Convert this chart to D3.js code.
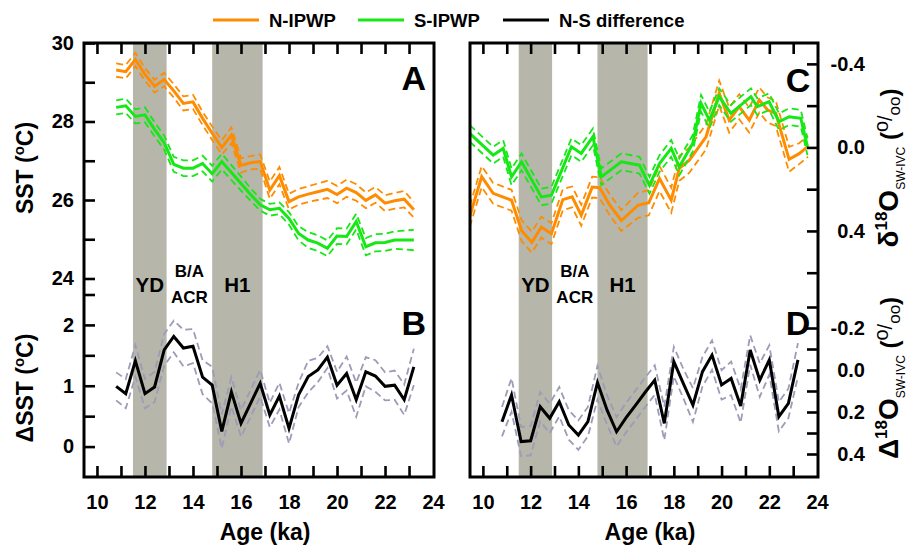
<!DOCTYPE html>
<head>
  <meta charset="utf-8">
  <script src="https://d3js.org/d3.v7.min.js"></script>
  <style>
    body { margin: 0; background: #fff; }
    text { font-family: "Liberation Sans", Arial, sans-serif; font-weight: bold; fill: #000; }
    .frame { fill: none; stroke: #000; stroke-width: 3px; }
    .axis line { stroke: #000; stroke-width: 2.6px; }
    .axis path { display: none; }
    .solid { fill: none; stroke-width: 3px; }
    .dash { fill: none; stroke-width: 1.8px; stroke-dasharray: 7,4; }
  </style>
</head>

<body>
  <script>
    // ---- data ----
    // common 0.4 ka grid for SST records and the N-S differences
    var ages = [10.8, 11.2, 11.6, 12.0, 12.4, 12.8, 13.2, 13.6, 14.0, 14.4, 14.8, 15.2, 15.6, 16.0, 16.4, 16.8,
                17.2, 17.6, 18.0, 18.4, 18.8, 19.2, 19.6, 20.0, 20.4, 20.8, 21.2, 21.6, 22.0, 22.4, 22.8, 23.2];

    var nSst = [29.31, 29.27, 29.58, 29.20, 28.90, 29.07, 28.78, 28.46, 28.50, 28.08, 27.70, 27.34, 27.65, 26.88, 26.95, 26.98,
                26.25, 26.62, 25.96, 26.08, 26.15, 26.21, 26.27, 26.14, 26.30, 26.19, 25.99, 26.13, 25.92, 25.98, 26.02, 25.75];
    var nSstErr = [0.17, 0.17, 0.17, 0.16, 0.16, 0.17, 0.17, 0.18, 0.18, 0.17, 0.17, 0.18, 0.20, 0.18, 0.17, 0.18,
                   0.22, 0.22, 0.20, 0.20, 0.20, 0.21, 0.22, 0.22, 0.22, 0.21, 0.20, 0.20, 0.20, 0.20, 0.21, 0.20];

    var sSst = [28.36, 28.40, 28.13, 28.17, 27.80, 27.46, 26.91, 26.81, 26.81, 26.93, 26.67, 26.98, 26.70, 26.42, 26.14, 25.88,
                25.75, 25.79, 25.53, 25.15, 24.98, 24.90, 24.77, 25.08, 25.07, 25.45, 24.81, 24.91, 24.92, 24.98, 24.98, 24.98];
    var sSstErr = [0.18, 0.18, 0.18, 0.19, 0.18, 0.18, 0.19, 0.20, 0.20, 0.20, 0.20, 0.20, 0.19, 0.18, 0.16, 0.15,
                   0.15, 0.15, 0.16, 0.18, 0.20, 0.20, 0.20, 0.20, 0.20, 0.20, 0.22, 0.22, 0.22, 0.22, 0.24, 0.26];

    var dSst = [0.99, 0.87, 1.41, 0.87, 0.98, 1.59, 1.81, 1.62, 1.65, 1.14, 1.01, 0.25, 0.90, 0.38, 0.71, 1.04,
                0.52, 0.83, 0.30, 0.85, 1.15, 1.26, 1.47, 1.01, 1.20, 0.77, 1.23, 1.16, 0.99, 1.01, 0.77, 1.31];
    var dSstErr = [0.23, 0.24, 0.26, 0.24, 0.25, 0.26, 0.26, 0.30, 0.28, 0.28, 0.30, 0.28, 0.24, 0.22, 0.22, 0.22,
                   0.20, 0.22, 0.25, 0.20, 0.26, 0.20, 0.18, 0.22, 0.28, 0.28, 0.24, 0.26, 0.23, 0.24, 0.25, 0.30];

    // d18O seawater, own sampling
    var nOAge = [9.45, 9.95, 10.43, 11.2, 11.62, 12.05, 12.45, 12.87, 13.35, 13.74, 14.12, 14.58, 14.89, 15.31, 15.8, 16.5,
                 16.95, 17.4, 17.89, 18.23, 18.65, 19.35, 19.9, 20.32, 20.74, 21.16, 21.58, 21.93, 22.27, 22.83, 23.25, 23.62];
    var nO = [0.33, 0.14, 0.22, 0.253, 0.398, 0.454, 0.382, 0.413, 0.25, 0.237, 0.325, 0.19, 0.193, 0.275, 0.35, 0.277,
              0.265, 0.149, 0.253, 0.10, 0.061, -0.051, -0.26, -0.131, -0.195, -0.131, -0.227, -0.179, -0.163, 0.057, 0.03, -0.005];
    var nOErr = [0.05, 0.05, 0.05, 0.05, 0.05, 0.05, 0.05, 0.05, 0.05, 0.05, 0.05, 0.05, 0.05, 0.05, 0.05, 0.06,
                 0.06, 0.06, 0.06, 0.06, 0.06, 0.06, 0.06, 0.06, 0.06, 0.06, 0.06, 0.06, 0.06, 0.06, 0.05, 0.05];

    var sOAge = [9.45, 10.43, 10.85, 11.2, 11.62, 12.45, 12.87, 13.71, 14.12, 14.61, 14.96, 15.8, 16.56, 16.98, 17.4,
                 17.89, 18.23, 18.79, 19.14, 19.49, 19.9, 20.39, 21.23, 21.5, 21.99, 22.41, 22.83, 23.32, 23.6];
    var sO = [-0.067, 0.037, 0.005, 0.141, 0.069, 0.237, 0.229, -0.003, 0.029, -0.051, 0.141, 0.069, 0.085, 0.181, 0.077,
              0.005, 0.093, -0.019, -0.211, -0.131, -0.243, -0.163, -0.243, -0.195, -0.219, -0.123, -0.147, -0.139, -0.003];
    var sOErr = [0.04, 0.04, 0.04, 0.04, 0.04, 0.04, 0.04, 0.04, 0.04, 0.04, 0.04, 0.04, 0.04, 0.04, 0.04,
                 0.04, 0.04, 0.04, 0.04, 0.04, 0.04, 0.04, 0.04, 0.04, 0.04, 0.04, 0.04, 0.04, 0.04];

    var dO = [0.246, 0.119, 0.341, 0.337, 0.175, 0.23, 0.151, 0.262, 0.31, 0.246, 0.06, 0.19, 0.294, 0.227, 0.167, 0.106,
              0.048, 0.254, -0.04, 0.065, 0.167, 0.008, -0.071, 0.071, 0.04, 0.171, -0.095, 0.048, -0.048, 0.222, 0.159, -0.048];
    var dOErr = [0.07, 0.08, 0.07, 0.07, 0.07, 0.07, 0.07, 0.07, 0.07, 0.07, 0.08, 0.07, 0.07, 0.07, 0.07, 0.07,
                 0.07, 0.08, 0.07, 0.07, 0.08, 0.07, 0.07, 0.07, 0.08, 0.08, 0.07, 0.08, 0.07, 0.07, 0.07, 0.08];

    // climate events
    var bandStart = [11.5, 14.8];
    var bandEnd = [12.9, 16.9];
    var bandLabel = ["YD", "H1"];

    var xTicks = [10, 11, 12, 13, 14, 15, 16, 17, 18, 19, 20, 21, 22, 23, 24];
    var sstTicks = [24, 25, 26, 27, 28, 29, 30];
    var dSstTicks = [0, 0.5, 1, 1.5, 2, 2.5];
    var oTicks = [-0.4, -0.2, 0, 0.2, 0.4, 0.6];
    var dOTicks = [-0.3, -0.2, -0.1, 0, 0.1, 0.2, 0.3, 0.4];

    var ORANGE = "#ff8c00", GREEN = "#16e816", GREYDASH = "#9c9cb8";

    var svg = d3.select("body").append("svg")
      .attr("width", 912)
      .attr("height", 548);

    var frameTop = 43, frameBottom = 477;

    // ---- scales ----
    var xL = d3.scaleLinear().domain([9.46, 24.04]).range([84, 434]);
    var xR = d3.scaleLinear().domain([9.46, 24.04]).range([470, 818]);
    var yA = d3.scaleLinear().domain([30, 24]).range([43, 278.5]);
    var yB = d3.scaleLinear().domain([2.5, -0.5]).range([294.5, 477]);
    var yC = d3.scaleLinear().domain([-0.5, 0.6]).range([43, 272.7]);
    var yD = d3.scaleLinear().domain([-0.3, 0.4]).range([307, 454]);

    function series(ag, val, err, k) {
      return ag.map(function(a, i) { return {x: a, y: val[i] + k * (err ? err[i] : 0)}; });
    }

    function panel(id, x) {
      var g = svg.append("g");
      svg.append("clipPath").attr("id", id)
        .append("rect")
        .attr("x", x.range()[0]).attr("y", frameTop)
        .attr("width", x.range()[1] - x.range()[0]).attr("height", frameBottom - frameTop);

      // shaded event bands
      g.selectAll(".band").data(bandStart).enter().append("rect")
        .attr("x", function(d) { return x(d); })
        .attr("y", frameTop)
        .attr("width", function(d, i) { return x(bandEnd[i]) - x(d); })
        .attr("height", frameBottom - frameTop)
        .attr("fill", "#b6b6aa");
      return g;
    }

    function drawLine(g, clipId, x, y, data, color, cls) {
      var line = d3.line()
        .x(function(d) { return x(d.x); })
        .y(function(d) { return y(d.y); });
      g.append("path")
        .datum(data)
        .attr("class", cls)
        .attr("clip-path", "url(#" + clipId + ")")
        .attr("stroke", color)
        .attr("d", line);
    }

    function withErr(g, clipId, x, y, ag, val, err, color, dashColor) {
      drawLine(g, clipId, x, y, series(ag, val, err, 1), dashColor, "dash");
      drawLine(g, clipId, x, y, series(ag, val, err, -1), dashColor, "dash");
      drawLine(g, clipId, x, y, series(ag, val, null, 0), color, "solid");
    }

    // ---- left panel (A, B) ----
    var gL = panel("clipL", xL);
    withErr(gL, "clipL", xL, yA, ages, nSst, nSstErr, ORANGE, ORANGE);
    withErr(gL, "clipL", xL, yA, ages, sSst, sSstErr, GREEN, GREEN);
    withErr(gL, "clipL", xL, yB, ages, dSst, dSstErr, "#000", GREYDASH);

    // ---- right panel (C, D) ----
    var gR = panel("clipR", xR);
    withErr(gR, "clipR", xR, yC, nOAge, nO, nOErr, ORANGE, ORANGE);
    withErr(gR, "clipR", xR, yC, sOAge, sO, sOErr, GREEN, GREEN);
    withErr(gR, "clipR", xR, yD, ages, dO, dOErr, "#000", GREYDASH);

    // ---- axes ----
    function styleText(sel, size) {
      sel.selectAll("text").style("font-size", size + "px")
        .style("font-family", "'Liberation Sans', Arial, sans-serif")
        .style("font-weight", "bold").attr("fill", "#000");
    }

    [xL, xR].forEach(function(x) {
      var gb = svg.append("g").attr("class", "axis")
        .attr("transform", "translate(0," + frameBottom + ")")
        .call(d3.axisBottom(x).tickValues(xTicks).tickSize(-11).tickPadding(18)
          .tickFormat(function(d) { return d % 2 === 0 ? d : ""; }));
      styleText(gb, 20);
      gb.selectAll(".tick line").filter(function(d) { return d === 24; }).remove();

      svg.append("g").attr("class", "axis")
        .attr("transform", "translate(0," + frameTop + ")")
        .call(d3.axisTop(x).tickValues(xTicks.slice(0, -1)).tickSize(-11).tickFormat(""));

      svg.append("text")
        .attr("x", (x(10) + x(24)) / 2)
        .attr("y", 540)
        .attr("text-anchor", "middle")
        .style("font-size", "23px")
        .text("Age (ka)");
    });

    var gA = svg.append("g").attr("class", "axis").attr("transform", "translate(84,0)")
      .call(d3.axisLeft(yA).tickValues(sstTicks).tickSize(-11).tickPadding(10)
        .tickFormat(function(d) { return d % 2 === 0 ? d : ""; }));
    styleText(gA, 20);

    var gB = svg.append("g").attr("class", "axis").attr("transform", "translate(84,0)")
      .call(d3.axisLeft(yB).tickValues(dSstTicks).tickSize(-11).tickPadding(10)
        .tickFormat(function(d) { return d % 1 === 0 ? d : ""; }));
    styleText(gB, 20);

    var fmt = d3.format(".1f");
    function fmtO(d) { return fmt(d).replace("\u2212", "-"); }

    var gC = svg.append("g").attr("class", "axis").attr("transform", "translate(818,0)")
      .call(d3.axisRight(yC).tickValues(oTicks).tickSize(-11)
        .tickFormat(function(d) { return Math.round(d * 10) % 4 === 0 ? fmtO(d) : ""; }));
    styleText(gC, 20);
    gC.selectAll("text").attr("x", 47).attr("text-anchor", "end");

    var gD = svg.append("g").attr("class", "axis").attr("transform", "translate(818,0)")
      .call(d3.axisRight(yD).tickValues(dOTicks).tickSize(-11)
        .tickFormat(function(d) { return Math.round(d * 10) % 2 === 0 ? fmtO(d) : ""; }));
    styleText(gD, 20);
    gD.selectAll("text").attr("x", 47).attr("text-anchor", "end");

    // frames
    [xL, xR].forEach(function(x) {
      svg.append("rect").attr("class", "frame")
        .attr("x", x.range()[0]).attr("y", frameTop)
        .attr("width", x.range()[1] - x.range()[0]).attr("height", frameBottom - frameTop);
    });

    // ---- event labels ----
    [xL, xR].forEach(function(x) {
      svg.selectAll(null).data(bandLabel).enter().append("text")
        .attr("x", function(d, i) { return x((bandStart[i] + bandEnd[i]) / 2); })
        .attr("y", 292)
        .attr("text-anchor", "middle")
        .style("font-size", "20.5px")
        .text(function(d) { return d; });
      var mid = x((bandEnd[0] + bandStart[1]) / 2);
      svg.append("text").attr("x", mid).attr("y", 277).attr("text-anchor", "middle")
        .style("font-size", "17px").text("B/A");
      svg.append("text").attr("x", mid).attr("y", 303).attr("text-anchor", "middle")
        .style("font-size", "17px").text("ACR");
    });

    // panel letters
    var letters = [["A", xL, 90], ["B", xL, 335], ["C", xR, 92], ["D", xR, 335]];
    letters.forEach(function(l) {
      svg.append("text").attr("x", l[1](23.2)).attr("y", l[2])
        .attr("text-anchor", "middle").style("font-size", "34px").text(l[0]);
    });

    // ---- axis titles ----
    var t1 = svg.append("text").attr("transform", "translate(33,168) rotate(-90)")
      .attr("text-anchor", "middle").style("font-size", "23px");
    t1.append("tspan").text("SST (");
    t1.append("tspan").attr("dy", -9).style("font-size", "15px").text("o");
    t1.append("tspan").attr("dy", 9).text("C)");

    var t2 = svg.append("text").attr("transform", "translate(33,388) rotate(-90)")
      .attr("text-anchor", "middle").style("font-size", "23px");
    t2.append("tspan").text("\u0394SST (");
    t2.append("tspan").attr("dy", -9).style("font-size", "15px").text("o");
    t2.append("tspan").attr("dy", 9).text("C)");

    function oTitle(sym, cy) {
      var t = svg.append("text").attr("transform", "translate(898," + cy + ") rotate(-90)")
        .attr("text-anchor", "middle").style("font-size", "28px");
      t.append("tspan").text(sym);
      t.append("tspan").attr("dy", -11).style("font-size", "17px").text("18");
      t.append("tspan").attr("dy", 11).text("O");
      t.append("tspan").attr("dy", 7).style("font-size", "12px").style("font-weight", "normal").text("SW-IVC");
      t.append("tspan").attr("dy", -7).style("font-size", "24px").text(" (");
      t.append("tspan").attr("dy", -10).style("font-size", "20px").style("font-weight", "normal").text("o");
      t.append("tspan").attr("dy", 4).style("font-size", "20px").style("font-weight", "normal").text("/");
      t.append("tspan").attr("dy", 8).style("font-size", "17px").style("font-weight", "normal").text("oo");
      t.append("tspan").attr("dy", -2).style("font-size", "24px").text(")");
    }
    oTitle("\u03b4", 168);
    oTitle("\u0394", 378);

    // ---- legend ----
    var legName = ["N-IPWP", "S-IPWP", "N-S difference"];
    var legColor = [ORANGE, GREEN, "#000"];
    var legX = [213, 358, 503];
    var leg = svg.selectAll(".leg").data(legName).enter().append("g")
      .attr("transform", function(d, i) { return "translate(" + legX[i] + ",20)"; });
    leg.append("line").attr("x1", 0).attr("x2", 46).attr("y1", 0).attr("y2", 0)
      .attr("stroke", function(d, i) { return legColor[i]; }).attr("stroke-width", 3);
    leg.append("text").attr("x", 56).attr("y", 7).style("font-size", "18.5px")
      .text(function(d) { return d; });
  </script>
</body>
